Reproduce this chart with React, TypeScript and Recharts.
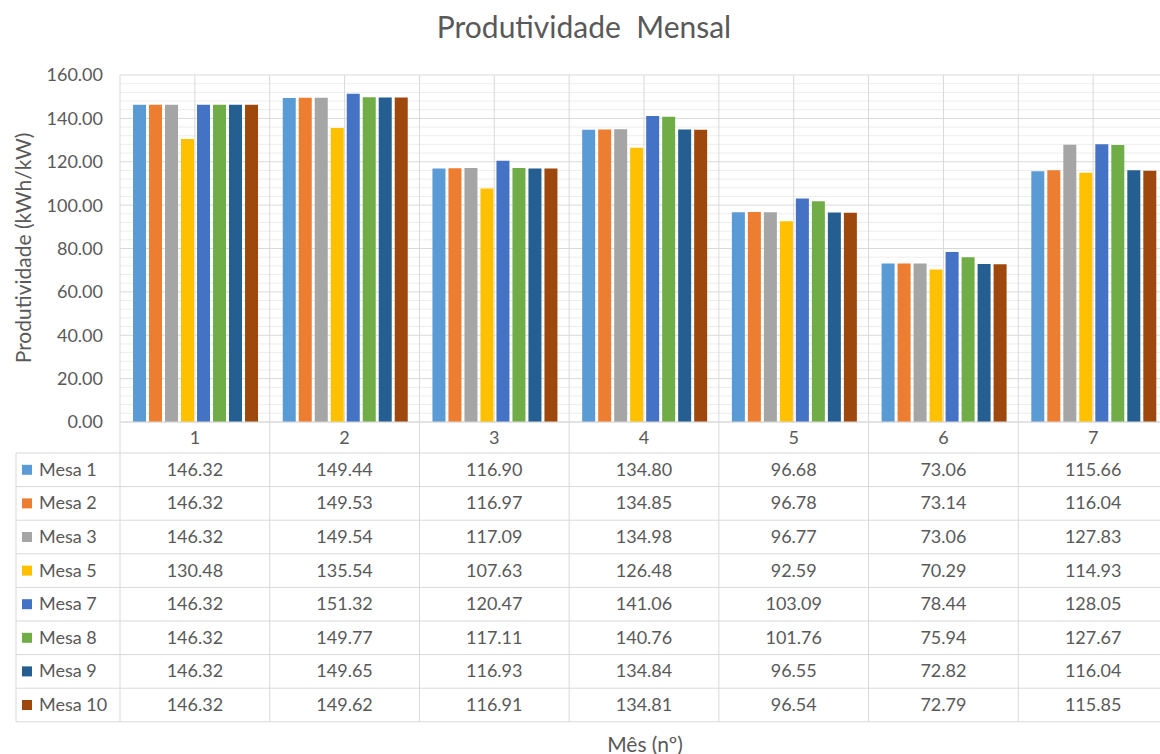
import React from "react";
import { BarChart, Bar, XAxis, YAxis, CartesianGrid } from "recharts";

const months = ["1", "2", "3", "4", "5", "6", "7"];
const mesa1 = [146.32, 149.44, 116.9, 134.8, 96.68, 73.06, 115.66];
const mesa2 = [146.32, 149.53, 116.97, 134.85, 96.78, 73.14, 116.04];
const mesa3 = [146.32, 149.54, 117.09, 134.98, 96.77, 73.06, 127.83];
const mesa5 = [130.48, 135.54, 107.63, 126.48, 92.59, 70.29, 114.93];
const mesa7 = [146.32, 151.32, 120.47, 141.06, 103.09, 78.44, 128.05];
const mesa8 = [146.32, 149.77, 117.11, 140.76, 101.76, 75.94, 127.67];
const mesa9 = [146.32, 149.65, 116.93, 134.84, 96.55, 72.82, 116.04];
const mesa10 = [146.32, 149.62, 116.91, 134.81, 96.54, 72.79, 115.85];

const seriesNames = ["Mesa 1", "Mesa 2", "Mesa 3", "Mesa 5", "Mesa 7", "Mesa 8", "Mesa 9", "Mesa 10"];
const seriesValues = [mesa1, mesa2, mesa3, mesa5, mesa7, mesa8, mesa9, mesa10];
const seriesColors = ["#5B9BD5", "#ED7D31", "#A5A5A5", "#FFC000", "#4472C4", "#70AD47", "#255E91", "#9E480E"];

const yTicks = [0, 20, 40, 60, 80, 100, 120, 140, 160];
const minorTicks = [
  4, 8, 12, 16, 24, 28, 32, 36, 44, 48, 52, 56, 64, 68, 72, 76, 84, 88, 92, 96,
  104, 108, 112, 116, 124, 128, 132, 136, 144, 148, 152, 156,
];
const Y_MAX = 160;

const data = months.map((m, i) => {
  const row: Record<string, any> = { month: m };
  seriesNames.forEach((n, s) => (row[n] = seriesValues[s][i]));
  return row;
});

// layout
const W = 1169;
const H = 754;
const LEFT = 120;
const TOP = 75;
const PLOT_BOTTOM = 422;
const ROW0 = 453;
const ROW_H = 33.6;
const TABLE_LEFT = 16;
const TABLE_BOTTOM = ROW0 + ROW_H * seriesNames.length;
const BAND = (W - LEFT - 1) / months.length;
const GRID = "#D9D9D9";
const MINOR = "#EDEDED";
const TEXT = "#595959";
const FONT = "Lato, 'Open Sans', sans-serif";

// apply an axis scale, whatever shape recharts hands it over in
const applyScale = (sc: any, v: any): number | undefined => {
  if (typeof sc === "function") return sc(v);
  if (sc && typeof sc.map === "function") return sc.map(v);
  if (sc && typeof sc.scale === "function") return sc.scale(v);
  return undefined;
};

// minor horizontal lines
const minorRows = ({ yAxis }: any) =>
  minorTicks.map((v) => {
    const y = applyScale(yAxis?.scale, v);
    return typeof y === "number" && !isNaN(y) ? y : PLOT_BOTTOM - ((PLOT_BOTTOM - TOP) * v) / Y_MAX;
  });

// category boundaries and centres
const bandLines = ({ xAxis }: any) => {
  const out: number[] = [];
  months.forEach((m, i) => {
    const s = applyScale(xAxis?.scale, m);
    const start = typeof s === "number" && !isNaN(s) ? s : LEFT + BAND * i;
    out.push(start, start + BAND / 2);
  });
  out.push(out[out.length - 2] + BAND);
  return out;
};

const TableTick = (props: any) => {
  const { x, payload } = props;
  const i = payload.index;
  const half = BAND / 2;
  return (
    <g>
      <line x1={x - half} x2={x - half} y1={PLOT_BOTTOM} y2={TABLE_BOTTOM} stroke={GRID} />
      {i === months.length - 1 && (
        <line x1={x + half} x2={x + half} y1={PLOT_BOTTOM} y2={TABLE_BOTTOM} stroke={GRID} />
      )}
      <text x={x} y={444} textAnchor="middle" fill={TEXT} fontSize={18} fontFamily={FONT}>
        {payload.value}
      </text>
      {seriesValues.map((vals, s) => (
        <text
          key={s}
          x={x}
          y={ROW0 + ROW_H * s + ROW_H / 2 + 6}
          textAnchor="middle"
          fill={TEXT}
          fontSize={18}
          fontFamily={FONT}
        >
          {vals[i].toFixed(2)}
        </text>
      ))}
      {i === 0 && (
        <g>
          <line x1={TABLE_LEFT} x2={TABLE_LEFT} y1={ROW0} y2={TABLE_BOTTOM} stroke={GRID} />
          {seriesNames.map((_, s) => (
            <line key={"h" + s} x1={TABLE_LEFT} x2={W} y1={ROW0 + ROW_H * s} y2={ROW0 + ROW_H * s} stroke={GRID} />
          ))}
          <line x1={TABLE_LEFT} x2={W} y1={TABLE_BOTTOM} y2={TABLE_BOTTOM} stroke={GRID} />
          {seriesNames.map((n, s) => (
            <g key={"l" + s}>
              <rect x={22} y={ROW0 + ROW_H * s + ROW_H / 2 - 5} width={10} height={10} fill={seriesColors[s]} />
              <text
                x={39}
                y={ROW0 + ROW_H * s + ROW_H / 2 + 6}
                fill={TEXT}
                fontSize={18}
                fontFamily={FONT}
              >
                {n}
              </text>
            </g>
          ))}
        </g>
      )}
    </g>
  );
};

export default function App() {
  return (
    <div
      style={{
        position: "absolute",
        left: 0,
        top: 0,
        width: 1160,
        height: H,
        overflow: "hidden",
        background: "#fff",
        fontFamily: FONT,
        color: TEXT,
      }}
    >
      <div style={{ position: "absolute", left: 0, width: 1168, top: 8, textAlign: "center", fontSize: 30 }}>
        Produtividade&nbsp;&nbsp;Mensal
      </div>
      <div
        style={{
          position: "absolute",
          left: 22,
          top: 248,
          transform: "translate(-50%, -50%) rotate(-90deg)",
          whiteSpace: "nowrap",
          fontSize: 21,
        }}
      >
        Produtividade (kWh/kW)
      </div>
      <div
        style={{
          position: "absolute",
          left: 645,
          top: 743,
          transform: "translate(-50%, -50%)",
          whiteSpace: "nowrap",
          fontSize: 21,
        }}
      >
        Mês (nº)
      </div>
      <BarChart
        width={W}
        height={H}
        data={data}
        margin={{ top: TOP, right: 1, bottom: 0, left: 0 }}
        barCategoryGap="8.7%"
        barGap={3}
      >
        <CartesianGrid vertical={false} stroke={MINOR} horizontalCoordinatesGenerator={minorRows} />
        <CartesianGrid stroke={GRID} verticalCoordinatesGenerator={bandLines} />
        <XAxis
          dataKey="month"
          height={H - PLOT_BOTTOM}
          interval={0}
          tickLine={false}
          axisLine={{ stroke: GRID }}
          tick={<TableTick />}
        />
        <YAxis
          width={LEFT}
          domain={[0, Y_MAX]}
          ticks={yTicks}
          tickFormatter={(v: number) => v.toFixed(2)}
          axisLine={false}
          tickLine={false}
          tickSize={6}
          tickMargin={11}
          tick={{ fill: TEXT, fontSize: 18, fontFamily: FONT }}
        />
        {seriesNames.map((n, s) => (
          <Bar key={n} dataKey={n} fill={seriesColors[s]} isAnimationActive={false} />
        ))}
      </BarChart>
    </div>
  );
}
